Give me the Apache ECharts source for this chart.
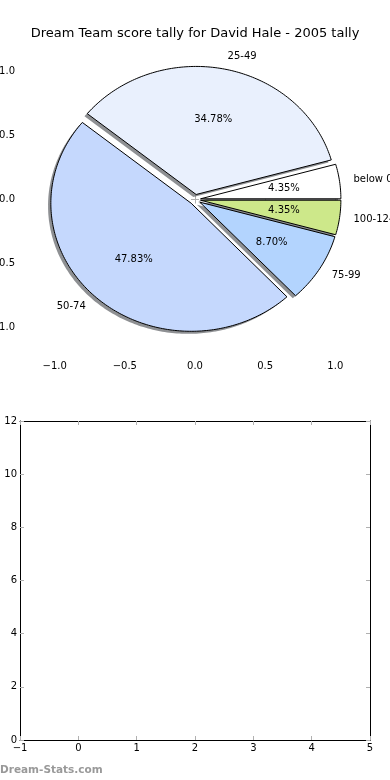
<!DOCTYPE html>
<html><head><meta charset="utf-8">
<script src="https://cdn.jsdelivr.net/npm/echarts@6/dist/echarts.min.js"></script>
<style>html,body{margin:0;padding:0;background:#fff}#c{width:390px;height:780px}</style>
</head><body><div id="c"></div>
<script>
const titleText = 'Dream Team score tally for David Hale - 2005 tally';
const categories = ['below 0', '25-49', '50-74', '75-99', '100-124'];
const counts = [1, 8, 11, 2, 1];
const sliceColors = ['#ffffff', '#e9f0fd', '#c5d8fd', '#b3d4fe', '#cde88a'];
const pieTicks = [-1, -0.5, 0, 0.5, 1];
const lowerXTicks = [-1, 0, 1, 2, 3, 4, 5];
const lowerYTicks = [0, 2, 4, 6, 8, 10, 12];
const watermark = 'Dream-Stats.com';

const FONT = 'DejaVu Sans';
const total = counts.reduce((a, b) => a + b, 0);
const explode = 0.04;
let acc = 0;
const slices = counts.map(c => {
  const t1 = acc / total * 360; acc += c; const t2 = acc / total * 360;
  return { t1, t2, frac: c / total };
});

function wedge(api, i, dx, dy) {
  const s = slices[i];
  const mid = (s.t1 + s.t2) / 2 * Math.PI / 180;
  const cx = explode * Math.cos(mid) + dx, cy = explode * Math.sin(mid) + dy;
  const pts = [api.coord([cx, cy])];
  const n = Math.max(4, Math.ceil(s.t2 - s.t1));
  for (let k = 0; k <= n; k++) {
    const a = (s.t1 + (s.t2 - s.t1) * k / n) * Math.PI / 180;
    pts.push(api.coord([cx + Math.cos(a), cy + Math.sin(a)]));
  }
  return { pts, cx, cy, mid };
}

const fmtPie = v => (v < 0 ? '\u2212' : '') + Math.abs(v).toFixed(1);
const fmtInt = v => (v < 0 ? '\u2212' : '') + Math.abs(v);
const tickStyle = { color: '#b0b0b0', width: 1 };
const lbl = { color: '#000', fontSize: 10, fontFamily: FONT };
const frame = { show: true, onZero: false, lineStyle: { color: '#000', width: 1 } };

const chart = echarts.init(document.getElementById('c'), null, { renderer: 'canvas' });
chart.setOption({
  animation: false,
  title: { text: titleText, left: 'center', top: 22, textStyle: { fontSize: 13, fontWeight: 'normal', color: '#000', fontFamily: FONT } },
  grid: [
    { left: 21, top: 42, width: 348, height: 315, containLabel: false, outerBoundsMode: 'none' },
    { left: 20, top: 421, width: 350, height: 319, containLabel: false, outerBoundsMode: 'none' }
  ],
  xAxis: [
    { type: 'value', gridIndex: 0, position: 'bottom', min: -1.24, max: 1.24, splitLine: { show: false }, axisLine: { show: false },
      axisTick: { show: true, inside: true, length: 4, lineStyle: tickStyle, customValues: pieTicks },
      axisLabel: { ...lbl, margin: 4, customValues: pieTicks, formatter: fmtPie } },
    { type: 'value', gridIndex: 0, position: 'top', min: -1.24, max: 1.24, splitLine: { show: false }, axisLine: { show: false },
      axisTick: { show: true, inside: true, length: 4, lineStyle: tickStyle, customValues: pieTicks },
      axisLabel: { show: false, customValues: pieTicks } },
    { type: 'value', gridIndex: 1, position: 'bottom', min: -1, max: 5, interval: 1, splitLine: { show: false },
      axisLine: frame,
      axisTick: { show: true, inside: true, length: 4, lineStyle: tickStyle },
      axisLabel: { ...lbl, margin: 3, formatter: fmtInt, showMinLabel: true, showMaxLabel: true } },
    { type: 'value', gridIndex: 1, position: 'top', min: -1, max: 5, interval: 1, splitLine: { show: false },
      axisLine: frame,
      axisTick: { show: true, inside: true, length: 4, lineStyle: tickStyle },
      axisLabel: { show: false } }
  ],
  yAxis: [
    { type: 'value', gridIndex: 0, position: 'left', min: -1.23, max: 1.23, splitLine: { show: false }, axisLine: { show: false },
      axisTick: { show: true, inside: true, length: 4, lineStyle: tickStyle, customValues: pieTicks },
      axisLabel: { ...lbl, margin: 6, customValues: pieTicks, formatter: fmtPie } },
    { type: 'value', gridIndex: 0, position: 'right', min: -1.23, max: 1.23, splitLine: { show: false }, axisLine: { show: false },
      axisTick: { show: true, inside: true, length: 4, lineStyle: tickStyle, customValues: pieTicks },
      axisLabel: { show: false, customValues: pieTicks } },
    { type: 'value', gridIndex: 1, position: 'left', min: 0, max: 12, interval: 2, splitLine: { show: false },
      axisLine: frame,
      axisTick: { show: true, inside: true, length: 4, lineStyle: tickStyle },
      axisLabel: { ...lbl, margin: 3, formatter: fmtInt, showMinLabel: true, showMaxLabel: true } },
    { type: 'value', gridIndex: 1, position: 'right', min: 0, max: 12, interval: 2, splitLine: { show: false },
      axisLine: frame,
      axisTick: { show: true, inside: true, length: 4, lineStyle: tickStyle },
      axisLabel: { show: false } }
  ],
  series: [
    { type: 'custom', xAxisIndex: 0, yAxisIndex: 0, clip: false, z: 1,
      data: categories.map((c, i) => [0, 0, i]),
      renderItem: (params, api) => {
        const i = api.value(2);
        const w = wedge(api, i, -0.02, -0.02);
        return { type: 'polygon', shape: { points: w.pts }, style: { fill: 'rgba(50,52,58,0.55)', stroke: 'none' } };
      } },
    { type: 'custom', xAxisIndex: 0, yAxisIndex: 0, clip: false, z: 2,
      data: categories.map((c, i) => [0, 0, i]),
      renderItem: (params, api) => {
        const i = api.value(2);
        const w = wedge(api, i, 0, 0);
        const lp = api.coord([w.cx + 1.1 * Math.cos(w.mid), w.cy + 1.1 * Math.sin(w.mid)]);
        const pp = api.coord([w.cx + 0.6 * Math.cos(w.mid), w.cy + 0.6 * Math.sin(w.mid)]);
        return { type: 'group', children: [
          { type: 'polygon', shape: { points: w.pts }, style: { fill: sliceColors[i], stroke: '#000', lineWidth: 1 } },
          { type: 'text', x: lp[0], y: lp[1], z2: 10, style: { text: categories[i], fill: '#000', fontSize: 10, fontFamily: FONT,
              align: Math.cos(w.mid) > 0 ? 'left' : 'right', verticalAlign: 'middle' } },
          { type: 'text', x: pp[0], y: pp[1], z2: 10, style: { text: (slices[i].frac * 100).toFixed(2) + '%', fill: '#000', fontSize: 10, fontFamily: FONT,
              align: 'center', verticalAlign: 'middle' } }
        ] };
      } },
    { type: 'line', xAxisIndex: 2, yAxisIndex: 2, data: [] }
  ],
  graphic: [
    { type: 'text', left: 0, top: 765, style: { text: watermark, fill: '#999', fontSize: 10.5, fontWeight: 'bold', fontFamily: FONT } }
  ]
});
</script></body></html>
